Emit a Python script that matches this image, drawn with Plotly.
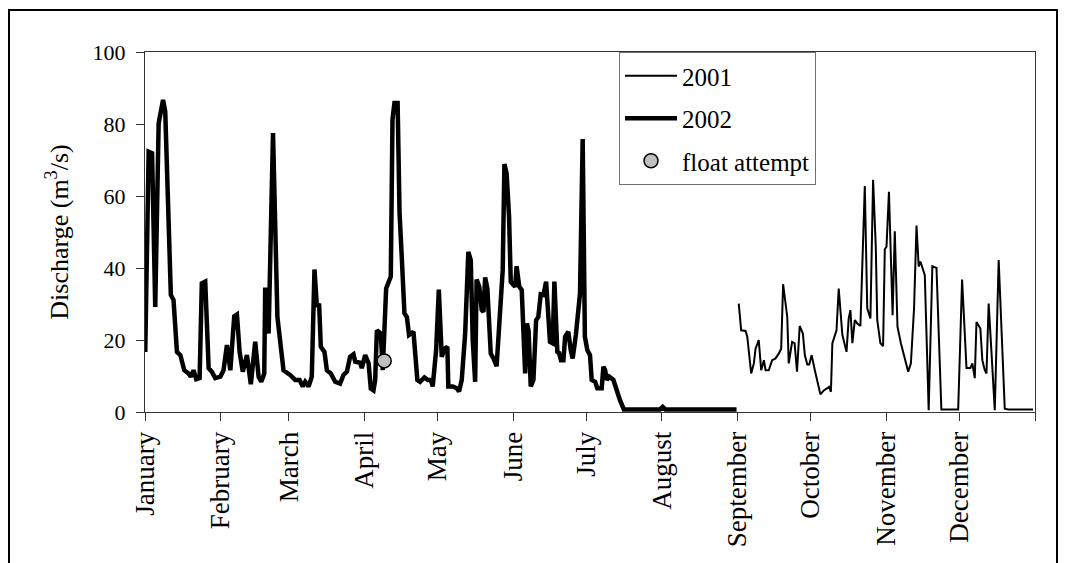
import plotly.graph_objects as go

# ---------------- data ----------------
# x = day of year (0 = 1 January), y = discharge (m3/s)
days_2002 = [0.1, 1.5, 2.9, 4.2, 5.6, 7.4, 8.3, 9.7, 10.6, 11.7, 13.1, 14.5, 16.1, 17.9, 18.8,
             19.9, 21.0, 22.4, 23.3, 24.7, 26.1, 27.4, 28.8, 30.9, 32.2, 33.6, 35.0, 36.6,
             37.7, 38.8, 40.1, 41.8, 43.4, 45.2, 46.6, 47.7, 48.9, 49.3, 50.7, 52.5, 53.4,
             54.3, 56.8, 59.5, 61.6, 63.4, 64.7, 65.7, 67.1, 68.4, 69.5, 70.5, 71.4, 72.1,
             73.6, 74.6, 76.2, 78.0, 80.0, 81.4, 82.8, 84.1, 85.5, 86.2, 88.2, 88.9, 90.3,
             91.7, 92.6, 93.7, 94.4, 95.1, 96.7, 97.5, 98.9, 100.8, 101.5, 102.3, 103.6,
             104.4, 105.3, 106.4, 107.4, 108.3, 110.1, 110.8, 111.7, 112.8, 114.6, 116.0,
             117.2, 118.0, 119.4, 120.5, 121.7, 122.8, 124.0, 124.4, 126.2, 127.9, 128.8,
             129.9, 131.3, 132.6, 133.6, 134.4, 135.4, 136.0, 137.1, 138.1, 138.8, 139.5,
             140.4, 141.8, 142.9, 144.2, 145.6, 146.7, 147.4, 148.3, 149.3, 150.0, 151.1,
             151.8, 152.4, 153.5, 154.5, 155.9, 156.6, 157.3, 158.2, 159.3, 160.4, 161.3,
             162.3, 163.4, 164.5, 165.4, 166.1, 167.2, 167.9, 169.1, 169.8, 170.6, 171.6,
             172.3, 173.6, 174.6, 175.4, 176.7, 178.4, 179.5, 180.4, 181.4, 182.5, 183.2,
             184.6, 185.5, 187.3, 188.0, 188.7, 189.4, 190.4, 192.1, 193.4, 194.8, 196.4,
             211.2, 212.3, 213.4, 242.6]
flow_2002 = [16.7, 72.3, 71.9, 29.2, 80.2, 86.7, 83.5, 57.0, 32.5, 31.1, 16.7, 15.8, 11.6, 10.7,
             9.8, 11.6, 9.1, 9.4, 35.7, 36.2, 12.2, 11.2, 9.4, 9.8, 11.6, 18.6, 11.6, 26.6,
             27.1, 16.7, 11.2, 15.8, 7.7, 19.5, 9.8, 8.4, 10.7, 34.6, 21.8, 77.5, 48.7,
             26.4, 11.6, 10.3, 8.9, 8.9, 7.1, 8.4, 7.1, 9.8, 39.6, 29.2, 30.1, 18.1,
             16.7, 11.6, 10.7, 8.4, 7.9, 10.3, 11.2, 15.3, 16.0, 14.0, 13.7, 12.2, 15.8,
             13.5, 6.5, 6.0, 8.9, 22.7, 21.8, 11.6, 34.3, 37.6, 81.2, 85.8, 85.8,
             55.2, 43.1, 27.4, 26.4, 21.4, 22.3, 15.3, 8.9, 8.4, 9.6, 8.9,
             8.9, 7.1, 17.2, 34.0, 15.3, 17.6, 18.1, 7.1, 7.1, 6.6, 5.7,
             8.9, 21.8, 44.5, 42.2, 20.0, 8.4, 36.8, 34.8, 28.3, 27.8, 37.4,
             34.3, 16.2, 14.9, 12.7, 25.5, 39.4, 68.9, 66.3, 54.3, 36.2, 35.3,
             34.8, 40.5, 34.8, 33.9, 10.7, 24.6, 22.7, 7.1, 8.9, 25.5, 26.4,
             32.7, 32.5, 36.2, 24.6, 19.5, 19.1, 36.2, 16.7, 16.4, 14.4, 14.4,
             20.9, 22.3, 17.2, 14.9, 21.4, 32.9, 75.8, 20.9, 17.2, 15.8, 8.9,
             8.4, 6.6, 6.6, 12.6, 11.6, 8.9, 9.8, 8.9, 6.1, 3.3, 0.7,
             0.7, 1.4, 0.7, 0.7]

days_2001 = [243.5, 244.5, 246.3, 247.0, 248.6, 249.7, 250.4, 251.7, 252.7, 253.8, 254.5,
             255.8, 257.2, 258.6, 259.9, 260.9, 261.7, 263.4, 264.0, 265.4, 266.4, 267.4,
             268.5, 269.8, 270.6, 271.6, 272.4, 273.4, 274.7, 276.1, 277.0, 278.4, 279.8,
             280.6, 281.3, 281.9, 283.6, 284.5, 286.0, 287.7, 288.6, 289.3, 290.1, 291.1,
             292.1, 293.4, 295.2, 296.2, 297.5, 298.6, 299.7, 300.3, 301.6, 302.7, 303.4,
             304.1, 305.1, 306.6, 307.5, 308.6, 310.0, 311.2, 313.0, 314.1, 315.4, 316.4,
             317.3, 318.0, 319.8, 321.4, 322.9, 324.6, 326.6, 333.5, 335.1, 336.9, 338.5,
             339.3, 340.3, 341.0, 342.6, 343.4, 344.4, 345.1, 346.0, 347.1, 348.5, 350.1,
             351.2, 352.6, 354.0, 364.2]
flow_2001 = [30.1, 22.7, 22.5, 20.9, 10.7, 13.5, 17.6, 20.0, 11.6, 14.4, 11.6,
             11.6, 14.4, 14.9, 16.2, 17.6, 35.5, 26.4, 13.5, 19.5, 19.1, 11.2,
             23.9, 21.8, 15.8, 13.2, 13.2, 15.8, 11.6, 7.4, 4.9, 6.0, 6.5,
             7.0, 5.6, 19.1, 22.7, 34.3, 21.4, 16.7, 26.0, 28.3, 19.1, 25.5,
             24.6, 23.9, 62.8, 28.8, 26.0, 64.5, 45.9, 25.5, 19.1, 18.3, 45.2,
             45.9, 61.2, 26.9, 50.2, 23.7, 19.1, 16.2, 11.2, 13.5, 28.8, 51.8,
             40.4, 41.8, 38.0, 0.5, 40.5, 40.0, 0.7, 0.7, 36.8, 12.2, 12.2,
             13.5, 9.4, 25.0, 23.2, 14.4, 11.6, 10.7, 30.1, 17.2, 0.5, 42.2,
             25.5, 0.9, 0.7, 0.7]

float_day = [98.1]
float_flow = [14.2]

month_starts = [0, 31, 59, 90, 120, 151, 181, 212, 243, 273, 304, 334]
month_names = ["January", "February", "March", "April", "May", "June", "July",
               "August", "September", "October", "November", "December"]
year_end = [365]
y_ticks = [0, 20, 40, 60, 80, 100]

# ---------------- figure ----------------
FONT = "Liberation Serif, Times New Roman, serif"

fig = go.Figure()
fig.add_trace(go.Scatter(x=days_2001, y=flow_2001, mode="lines", name="2001",
                         line=dict(color="black", width=2), legendgroup="a"))
fig.add_trace(go.Scatter(x=days_2002, y=flow_2002, mode="lines", name="2002",
                         line=dict(color="black", width=4.5), legendgroup="b"))
fig.add_trace(go.Scatter(x=float_day, y=float_flow, mode="markers", name="float attempt",
                         marker=dict(color="#c0c0c0", size=14,
                                     line=dict(color="black", width=1.5)),
                         legendgroup="c"))

fig.update_layout(
    width=1066, height=563,
    margin=dict(l=145, r=31, t=52, b=151),
    paper_bgcolor="white", plot_bgcolor="white",
    font=dict(family=FONT, color="black", size=22),
    showlegend=True,
    legend=dict(x=0.5326, y=1.0, xanchor="left", yanchor="top",
                bgcolor="white", bordercolor="#707070", borderwidth=1,
                font=dict(family=FONT, size=25, color="black"),
                traceorder="grouped", tracegroupgap=7, itemwidth=52),
    xaxis=dict(range=[0, 365], tickmode="array", tickvals=month_starts,
               ticktext=month_names, tickangle=-90,
               ticks="outside", ticklen=8, tickcolor="#333", tickwidth=1,
               minor=dict(tickmode="array", tickvals=year_end, ticks="outside",
                          ticklen=8, tickcolor="#333", tickwidth=1, showgrid=False),
               showline=True, linecolor="#333", linewidth=1, mirror=True,
               showgrid=False, zeroline=False,
               tickfont=dict(family=FONT, size=27, color="black")),
    yaxis=dict(range=[0, 100], tickmode="array", tickvals=y_ticks,
               ticks="outside", ticklen=8, tickcolor="#333", tickwidth=1,
               ticklabelstandoff=6,
               showline=True, linecolor="#333", linewidth=1, mirror=True,
               showgrid=False, zeroline=False,
               tickfont=dict(family=FONT, size=22, color="black"),
               title=dict(text="Discharge (m<sup>3</sup>/s)",
                          font=dict(family=FONT, size=26, color="black"),
                          standoff=16)),
)

# outer frame around the whole chart (cut at the bottom of the picture)
fig.add_shape(type="rect", xref="paper", yref="paper",
              x0=(9 - 145) / 890, x1=(1057 - 145) / 890,
              y0=(412 - 600) / 360, y1=(412 - 10) / 360,
              line=dict(color="black", width=2), fillcolor="rgba(0,0,0,0)",
              layer="above")

fig.write_html("out.html")
